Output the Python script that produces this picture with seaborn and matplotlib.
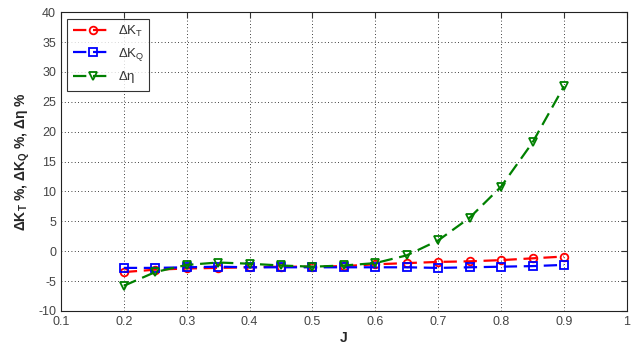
import matplotlib
matplotlib.use("Agg")
import matplotlib.pyplot as plt
import seaborn as sns
import pandas as pd

J = [0.2, 0.25, 0.3, 0.35, 0.4, 0.45, 0.5, 0.55, 0.6, 0.65, 0.7, 0.75, 0.8, 0.85, 0.9]
dKT = [-3.5, -3.1, -2.9, -2.8, -2.7, -2.6, -2.6, -2.5, -2.2, -2.0, -1.8, -1.7, -1.5, -1.2, -0.9]
dKQ = [-2.8, -2.8, -2.7, -2.6, -2.7, -2.7, -2.7, -2.7, -2.7, -2.7, -2.8, -2.7, -2.6, -2.5, -2.3]
deta = [-5.8, -3.5, -2.3, -1.9, -2.1, -2.4, -2.6, -2.4, -2.0, -0.7, 1.8, 5.6, 10.8, 18.2, 27.6]
labels = [r"$\Delta K_T$", r"$\Delta K_Q$", r"$\Delta\eta$"]
xticks = [0.1, 0.2, 0.3, 0.4, 0.5, 0.6, 0.7, 0.8, 0.9, 1]
yticks = [-10, -5, 0, 5, 10, 15, 20, 25, 30, 35, 40]

sns.set_style("white")
plt.rcParams['font.family'] = ['Liberation Sans', 'DejaVu Sans']
plt.rcParams['mathtext.fontset'] = 'custom'
plt.rcParams['mathtext.rm'] = 'Liberation Sans'
plt.rcParams['mathtext.it'] = 'Liberation Sans'
plt.rcParams['mathtext.bf'] = 'Liberation Sans:bold'
plt.rcParams['axes.unicode_minus'] = False

fig = plt.figure(figsize=(6.41, 3.47), dpi=100)
ax = fig.add_axes([0.095, 0.104, 0.883, 0.861])

df = pd.DataFrame({"J": J * 3, "val": dKT + dKQ + deta,
                   "s": [labels[0]] * len(J) + [labels[1]] * len(J) + [labels[2]] * len(J)})
colors = ["#ff0000", "#0000ff", "#008000"]
markers = ["o", "s", "v"]
for lab, c, m in zip(labels, colors, markers):
    sub = df[df.s == lab]
    sns.lineplot(data=sub, x="J", y="val", ax=ax, color=c, marker=m, markersize=5.5,
                 markerfacecolor="none", markeredgecolor=c, markeredgewidth=1.3,
                 linestyle=(0, (6, 3)), linewidth=1.6, label=lab)

ax.set_xlim(0.1, 1)
ax.set_ylim(-10, 40)
ax.set_xticks(xticks)
ax.set_xticklabels([str(t) for t in xticks])
ax.set_yticks(yticks)
ax.grid(True, linestyle=(0, (1, 3)), color="black", linewidth=0.6)
ax.tick_params(direction="in", length=4, labelsize=9, colors="#333333",
               top=True, right=True)
ax.tick_params(labelcolor="#444444")
for sp in ax.spines.values():
    sp.set_color("#222222")
    sp.set_linewidth(0.8)
ax.set_xlabel("J", fontsize=10, fontweight="bold", labelpad=2)
ax.set_ylabel(r"$\mathbf{\Delta K_T}$ %, $\mathbf{\Delta K_Q}$ %, $\mathbf{\Delta\eta}$ %",
              fontsize=10, fontweight="bold", labelpad=4)
leg = ax.legend(loc="upper left", frameon=True, fancybox=False, fontsize=9.5,
                edgecolor="black", borderaxespad=0.5, handlelength=3.0,
                labelspacing=0.5, handletextpad=0.4, borderpad=0.4)
leg.get_frame().set_linewidth(0.8)
for t in leg.get_texts():
    t.set_color("#333333")
fig.savefig("out.png", dpi=100)
